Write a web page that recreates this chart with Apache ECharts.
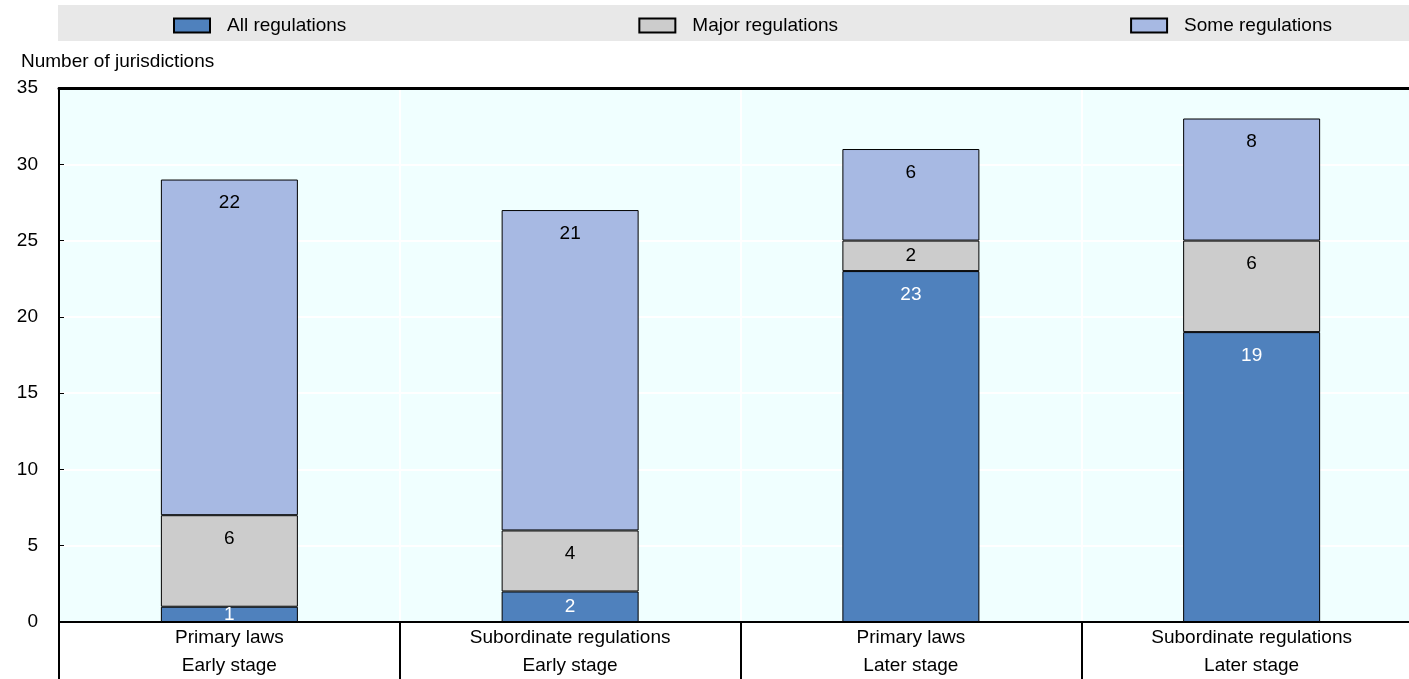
<!DOCTYPE html>
<html>
<head>
<meta charset="utf-8">
<script src="https://cdn.jsdelivr.net/npm/echarts@6/dist/echarts.min.js"></script>
<style>
html,body{margin:0;padding:0;background:#fff;}
#chart{width:1409px;height:679px;}
</style>
</head>
<body>
<div id="chart"></div>
<script>
const categories = ['Primary laws\nEarly stage', 'Subordinate regulations\nEarly stage', 'Primary laws\nLater stage', 'Subordinate regulations\nLater stage'];
const allRegulations = [1, 2, 23, 19];
const majorRegulations = [6, 4, 2, 6];
const someRegulations = [22, 21, 6, 8];
const yTicks = [0, 5, 10, 15, 20, 25, 30, 35];

const FONT = 'Liberation Sans, Arial, sans-serif';
const FS = 19;

function toData(values, labelColor) {
  return values.map(v => ({
    value: v,
    label: {
      position: v <= 3 ? 'inside' : 'insideTop',
      distance: 14,
      color: labelColor
    }
  }));
}

function makeSeries(name, values, color, labelColor) {
  return {
    name: name,
    type: 'bar',
    stack: 'total',
    barWidth: 137,
    data: toData(values, labelColor),
    itemStyle: { color: color, borderColor: '#000', borderWidth: 1 },
    label: { show: true, fontFamily: FONT, fontSize: FS, color: labelColor },
    emphasis: { disabled: true }
  };
}

const chart = echarts.init(document.getElementById('chart'), null, { renderer: 'canvas' });
chart.setOption({
  animation: false,
  backgroundColor: '#fff',
  textStyle: { fontFamily: FONT },
  graphic: [{
    type: 'rect', z: -10, silent: true,
    shape: { x: 58, y: 5, width: 1351, height: 36 },
    style: { fill: '#e8e8e8' }
  }],
  title: {
    text: 'Number of jurisdictions',
    left: 21, top: 52,
    padding: 0,
    textStyle: { fontFamily: FONT, fontSize: FS, fontWeight: 'normal', color: '#000' }
  },
  legend: {
    left: 173, top: 16,
    padding: 0,
    itemWidth: 36, itemHeight: 14,
    itemGap: 292,
    icon: 'rect',
    textStyle: { fontFamily: FONT, fontSize: FS, color: '#000', padding: [0, 0, 0, 12] },
    data: ['All regulations', 'Major regulations', 'Some regulations']
  },
  grid: {
    left: 59, top: 88, width: 1363, height: 534,
    outerBoundsMode: 'none',
    show: true, backgroundColor: '#f0ffff', borderWidth: 0,
    containLabel: false
  },
  xAxis: [{
    type: 'category',
    data: categories,
    boundaryGap: true,
    axisLine: { show: true, lineStyle: { color: '#000', width: 2 } },
    axisTick: { show: true, interval: 0, length: 57, lineStyle: { color: '#000', width: 2 } },
    axisLabel: { interval: 0, margin: 2, lineHeight: 28, fontFamily: FONT, fontSize: FS, color: '#000' },
    splitLine: { show: true, interval: 0, lineStyle: { color: '#fff', width: 2 } }
  }, {
    type: 'category',
    position: 'top',
    data: categories,
    axisLine: { show: true, lineStyle: { color: '#000', width: 3 } },
    axisTick: { show: false },
    axisLabel: { show: false },
    splitLine: { show: false }
  }],
  yAxis: {
    type: 'value',
    min: yTicks[0], max: yTicks[yTicks.length - 1], interval: 5,
    axisLine: { show: true, lineStyle: { color: '#000', width: 2 } },
    axisTick: { show: true, inside: true, length: 5, lineStyle: { color: '#000', width: 1 } },
    axisLabel: { margin: 21, fontFamily: FONT, fontSize: FS, color: '#000' },
    splitLine: { show: true, lineStyle: { color: '#fff', width: 2 } }
  },
  series: [
    makeSeries('All regulations', allRegulations, '#4f81bd', '#fff'),
    makeSeries('Major regulations', majorRegulations, '#cccccc', '#000'),
    makeSeries('Some regulations', someRegulations, '#a7b9e3', '#000')
  ]
});
</script>
</body>
</html>
